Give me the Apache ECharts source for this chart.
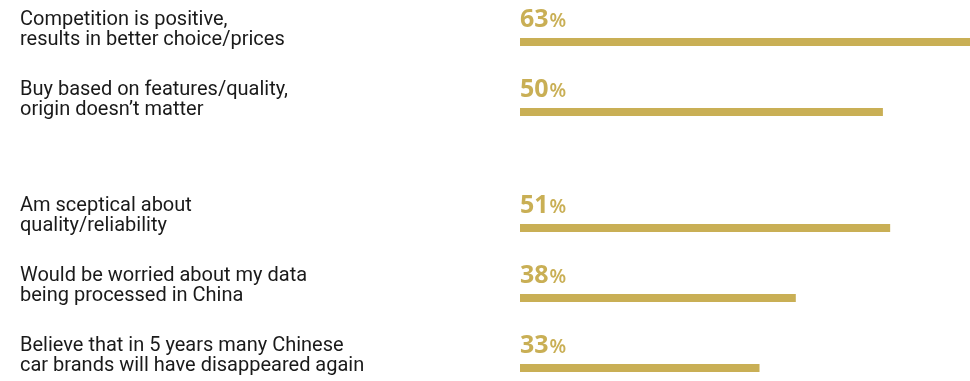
<!DOCTYPE html>
<html>
<head>
<meta charset="utf-8">
<script src="https://cdn.jsdelivr.net/npm/echarts@6/dist/echarts.min.js"></script>
<style>
  html, body { margin: 0; padding: 0; background: #ffffff; }
  #chart { width: 970px; height: 381px; }
</style>
</head>
<body>
<div id="chart"></div>
<script>
// Attitudes towards Chinese car brands — share of respondents (%)
const openCategories = [
  'Competition is positive,\nresults in better choice/prices',
  'Buy based on features/quality,\norigin doesn\u2019t matter'
];
const openValues = [63, 50];

const concernCategories = [
  'Am sceptical about\nquality/reliability',
  'Would be worried about my data\nbeing processed in China',
  'Believe that in 5 years many Chinese\ncar brands will have disappeared again'
];
const concernValues = [51, 38, 33];

const GOLD = '#C9AF55';
const TEXT = '#1a1a1a';
const FONT = 'Roboto, "Noto Sans", sans-serif';
const NUM_FONT = '"Noto Sans", sans-serif';

// Scale runs 0–62 across the plot; the longest bar runs off the right edge.
function valueAxis(gridIndex) {
  return {
    type: 'value', gridIndex, min: 0, max: 62,
    show: false, splitLine: { show: false }
  };
}

function categoryAxis(gridIndex, data) {
  return {
    type: 'category', gridIndex, data, inverse: true, boundaryGap: false,
    axisLine: { show: false }, axisTick: { show: false },
    axisLabel: {
      interval: 0, align: 'left', margin: 500,
      verticalAlign: 'middle',
      // each statement sits above its bar: a spacer line below the text lifts it up
      formatter: v => v.split('\n').map(line => `{t|${line}}`).join('\n') + '\n{s| }',
      rich: {
        t: { fontFamily: FONT, fontSize: 20, lineHeight: 20, color: TEXT },
        s: { fontSize: 10, lineHeight: 24 }
      }
    }
  };
}

function barSeries(index, data) {
  return {
    type: 'bar', xAxisIndex: index, yAxisIndex: index, data,
    barWidth: 8, itemStyle: { color: GOLD },
    clip: false, silent: true,
    label: {
      show: true, position: [0, -6], align: 'left', verticalAlign: 'bottom',
      formatter: p => `{n|${p.value}}{p|%}`,
      rich: {
        n: { fontFamily: NUM_FONT, fontSize: 25, fontWeight: 'bold', color: GOLD, lineHeight: 28, verticalAlign: 'bottom' },
        p: { fontFamily: NUM_FONT, fontSize: 19, fontWeight: 600, color: GOLD, lineHeight: 28, verticalAlign: 'bottom', padding: [0, 0, 1, 1] }
      }
    }
  };
}

const chart = echarts.init(document.getElementById('chart'), null, { renderer: 'canvas' });
chart.setOption({
  animation: false,
  grid: [
    { left: 520, right: 0, top: 42, height: 70, outerBoundsMode: 'none', containLabel: false },
    { left: 520, right: 0, top: 228, height: 140, outerBoundsMode: 'none', containLabel: false }
  ],
  xAxis: [valueAxis(0), valueAxis(1)],
  yAxis: [categoryAxis(0, openCategories), categoryAxis(1, concernCategories)],
  series: [barSeries(0, openValues), barSeries(1, concernValues)]
});
</script>
</body>
</html>
